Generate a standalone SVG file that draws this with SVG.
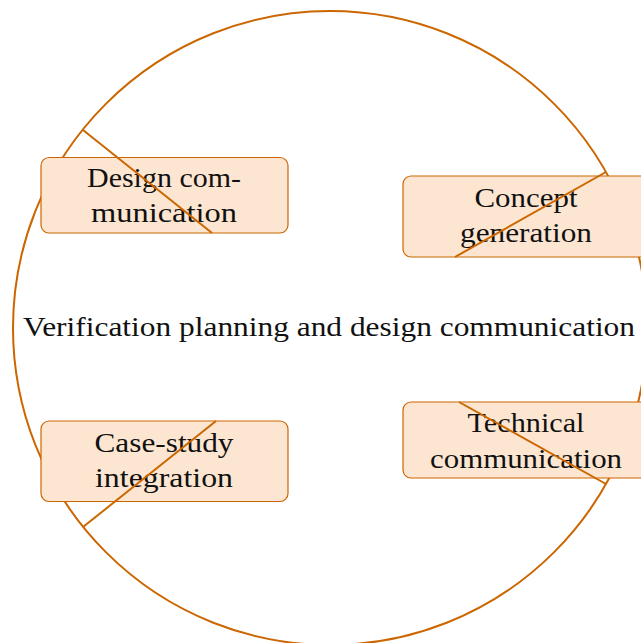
<svg xmlns="http://www.w3.org/2000/svg" width="641" height="643" viewBox="0 0 641 643">
<style>
.box{fill:#fde6d1;stroke:#cc6600;stroke-width:1.2}
.ring{fill:none;stroke:#cc6600;stroke-width:2}
.ln{stroke:#cc6600;stroke-width:2;fill:none}
text{font-family:"Liberation Serif","DejaVu Serif",serif;font-size:27px;fill:#111;text-anchor:middle}
</style>
<rect width="641" height="643" fill="#fff"/>
<circle class="ring" cx="330" cy="328" r="317"/>
<g id="main"><text x="329" y="336" textLength="612" lengthAdjust="spacingAndGlyphs">Verification planning and design communication</text></g>
<g id="n1">
<rect class="box" x="41" y="157.5" width="247" height="75.5" rx="8"/>
<text x="164" y="187" textLength="154" lengthAdjust="spacingAndGlyphs">Design com-</text>
<text x="164" y="222" textLength="146" lengthAdjust="spacingAndGlyphs">munication</text>
</g>
<g id="n2">
<rect class="box" x="403" y="176" width="247" height="81" rx="8"/>
<text x="526" y="207" textLength="103" lengthAdjust="spacingAndGlyphs">Concept</text>
<text x="526" y="242" textLength="132" lengthAdjust="spacingAndGlyphs">generation</text>
</g>
<g id="n3">
<rect class="box" x="41" y="421" width="247" height="80.5" rx="8"/>
<text x="164" y="452" textLength="139" lengthAdjust="spacingAndGlyphs">Case-study</text>
<text x="164" y="487" textLength="138" lengthAdjust="spacingAndGlyphs">integration</text>
</g>
<g id="n4">
<rect class="box" x="403" y="402" width="247" height="76" rx="8"/>
<text x="526" y="432" textLength="117" lengthAdjust="spacingAndGlyphs">Technical</text>
<text x="526" y="468" textLength="192" lengthAdjust="spacingAndGlyphs">communication</text>
</g>
<g id="connectors">
<line class="ln" x1="83" y1="130" x2="212" y2="233"/>
<line class="ln" x1="606" y1="172" x2="455" y2="257"/>
<line class="ln" x1="216" y1="421" x2="83" y2="527"/>
<line class="ln" x1="459" y1="402" x2="606" y2="484"/>
</g>
</svg>
